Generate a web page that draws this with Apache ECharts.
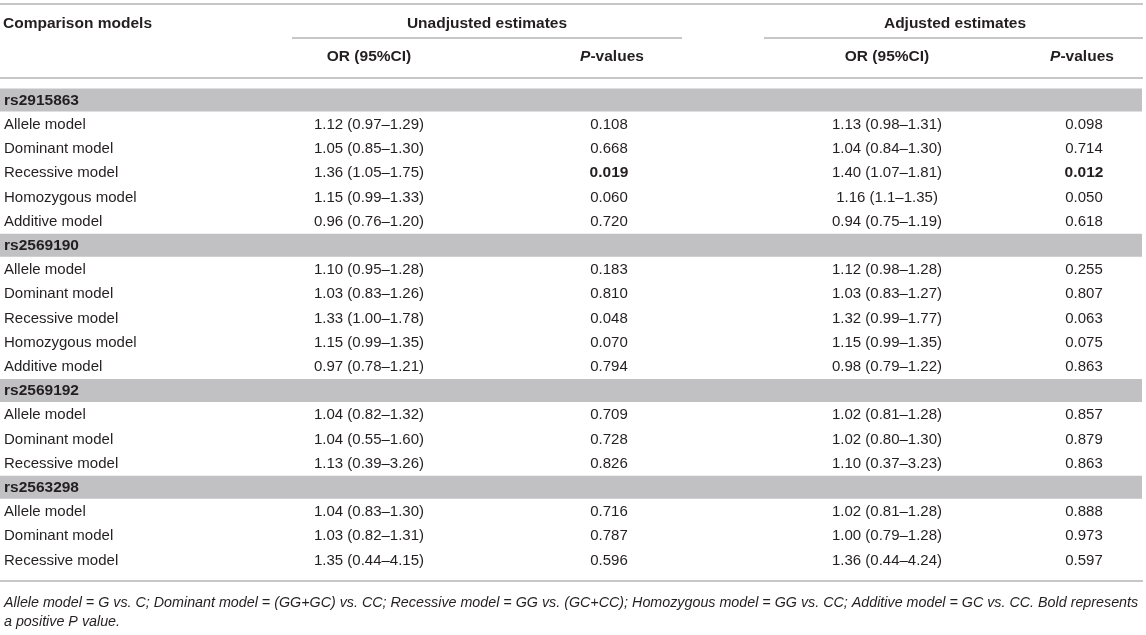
<!DOCTYPE html>
<html>
<head>
<meta charset="utf-8">
<script src="https://cdn.jsdelivr.net/npm/echarts@6/dist/echarts.min.js"></script>
<style>
html,body{margin:0;padding:0;background:#fff;}
#chart{width:1146px;height:635px;}
</style>
</head>
<body>
<div id="chart"></div>
<script>
// ---- data ----
const snps = ['rs2915863', 'rs2569190', 'rs2569192', 'rs2563298'];
const modelsPerSnp = [
  ['Allele model', 'Dominant model', 'Recessive model', 'Homozygous model', 'Additive model'],
  ['Allele model', 'Dominant model', 'Recessive model', 'Homozygous model', 'Additive model'],
  ['Allele model', 'Dominant model', 'Recessive model'],
  ['Allele model', 'Dominant model', 'Recessive model']
];
const orUnadjusted = [
  '1.12 (0.97–1.29)', '1.05 (0.85–1.30)', '1.36 (1.05–1.75)', '1.15 (0.99–1.33)', '0.96 (0.76–1.20)',
  '1.10 (0.95–1.28)', '1.03 (0.83–1.26)', '1.33 (1.00–1.78)', '1.15 (0.99–1.35)', '0.97 (0.78–1.21)',
  '1.04 (0.82–1.32)', '1.04 (0.55–1.60)', '1.13 (0.39–3.26)',
  '1.04 (0.83–1.30)', '1.03 (0.82–1.31)', '1.35 (0.44–4.15)'
];
const pUnadjusted = [
  '0.108', '0.668', '0.019', '0.060', '0.720',
  '0.183', '0.810', '0.048', '0.070', '0.794',
  '0.709', '0.728', '0.826',
  '0.716', '0.787', '0.596'
];
const orAdjusted = [
  '1.13 (0.98–1.31)', '1.04 (0.84–1.30)', '1.40 (1.07–1.81)', '1.16 (1.1–1.35)', '0.94 (0.75–1.19)',
  '1.12 (0.98–1.28)', '1.03 (0.83–1.27)', '1.32 (0.99–1.77)', '1.15 (0.99–1.35)', '0.98 (0.79–1.22)',
  '1.02 (0.81–1.28)', '1.02 (0.80–1.30)', '1.10 (0.37–3.23)',
  '1.02 (0.81–1.28)', '1.00 (0.79–1.28)', '1.36 (0.44–4.24)'
];
const pAdjusted = [
  '0.098', '0.714', '0.012', '0.050', '0.618',
  '0.255', '0.807', '0.063', '0.075', '0.863',
  '0.857', '0.879', '0.863',
  '0.888', '0.973', '0.597'
];
// bold (positive) P values, flagged per model row
const boldPUnadjusted = [false,false,true,false,false, false,false,false,false,false, false,false,false, false,false,false];
const boldPAdjusted   = [false,false,true,false,false, false,false,false,false,false, false,false,false, false,false,false];
const footnote = [
  'Allele model = G vs. C; Dominant model = (GG+GC) vs. CC; Recessive model = GG vs. (GC+CC); Homozygous model = GG vs. CC; Additive model = GC vs. CC. Bold represents',
  'a positive P value.'
];

// ---- build table rows ----
const FONT = '"Liberation Sans", Arial, Helvetica, sans-serif';
const TXT = '#231f20';
const colX = {label: 4, orU: 369, pU: 609, orA: 887, pA: 1084};

const rowNames = [];
const bandRows = [];
const cells = []; // {x, row, text, bold, align}
let m = 0;
snps.forEach((snp, si) => {
  const r = rowNames.length;
  rowNames.push(snp);
  bandRows.push(r);
  cells.push({x: colX.label, row: r, text: snp, bold: true, align: 'left'});
  modelsPerSnp[si].forEach(name => {
    const rr = rowNames.length;
    rowNames.push(name);
    cells.push({x: colX.label, row: rr, text: name, bold: false, align: 'left'});
    cells.push({x: colX.orU, row: rr, text: orUnadjusted[m], bold: false, align: 'center'});
    cells.push({x: colX.pU, row: rr, text: pUnadjusted[m], bold: boldPUnadjusted[m], align: 'center'});
    cells.push({x: colX.orA, row: rr, text: orAdjusted[m], bold: false, align: 'center'});
    cells.push({x: colX.pA, row: rr, text: pAdjusted[m], bold: boldPAdjusted[m], align: 'center'});
    m++;
  });
});

const ROW_H = 24.2;
const BOLD = 'bold 15.5px ' + FONT;
const REG = '15px ' + FONT;
const chart = echarts.init(document.getElementById('chart'), null, {renderer: 'canvas'});

function hline(x1, x2, y, w) {
  return {type: 'line', shape: {x1: x1, y1: y, x2: x2, y2: y}, style: {stroke: '#b5b5b5', lineWidth: w || 1.5}, silent: true};
}
function htext(x, y, text, align, rich) {
  const o = {type: 'text', x: x, y: y, style: {text: text, align: align, verticalAlign: 'middle', font: BOLD, fill: TXT}};
  if (rich) o.style.rich = rich;
  return o;
}
const richP = {i: {font: 'italic ' + BOLD, fill: TXT}, b: {font: BOLD, fill: TXT}};

chart.setOption({
  animation: false,
  backgroundColor: '#fff',
  grid: {left: 0, right: 0, top: 88, height: ROW_H * rowNames.length, containLabel: false},
  xAxis: {type: 'value', min: 0, max: 1146, show: false},
  yAxis: {type: 'category', data: rowNames.map((n, i) => i + ':' + n), inverse: true, show: false},
  graphic: [
    hline(0, 1143, 4),
    htext(3, 24, 'Comparison models', 'left'),
    htext(487, 24, 'Unadjusted estimates', 'center'),
    htext(955, 24, 'Adjusted estimates', 'center'),
    hline(292, 682, 38),
    hline(764, 1143, 38),
    htext(369, 57, 'OR (95%CI)', 'center'),
    htext(612, 57, '{i|P}{b|-values}', 'center', richP),
    htext(887, 57, 'OR (95%CI)', 'center'),
    htext(1082, 57, '{i|P}{b|-values}', 'center', richP),
    hline(0, 1143, 78),
    hline(0, 1143, 581),
    {type: 'text', x: 4, y: 603, style: {text: footnote[0], align: 'left', verticalAlign: 'middle', font: 'italic 14.3px ' + FONT, fill: TXT}},
    {type: 'text', x: 4, y: 622, style: {text: footnote[1], align: 'left', verticalAlign: 'middle', font: 'italic 14.3px ' + FONT, fill: TXT}}
  ],
  series: [
    {
      type: 'custom',
      name: 'bands',
      data: bandRows.map(r => [0, r]),
      renderItem: function (params, api) {
        const p = api.coord([0, api.value(1)]);
        const p2 = api.coord([1142, api.value(1)]);
        const h = api.size([0, 1])[1];
        return {type: 'rect', shape: {x: p[0], y: p[1] - h / 2 + 0.5, width: p2[0] - p[0], height: h - 1.2}, style: {fill: '#c1c1c4'}};
      },
      z: 1
    },
    {
      type: 'custom',
      name: 'cells',
      data: cells.map(c => [c.x, c.row]),
      renderItem: function (params, api) {
        const c = cells[params.dataIndex];
        const p = api.coord([api.value(0), api.value(1)]);
        return {
          type: 'text', x: p[0], y: p[1] + 0.5,
          style: {text: c.text, align: c.align, verticalAlign: 'middle',
                  font: c.bold ? BOLD : REG, fill: TXT}
        };
      },
      z: 2
    }
  ]
});
</script>
</body>
</html>
